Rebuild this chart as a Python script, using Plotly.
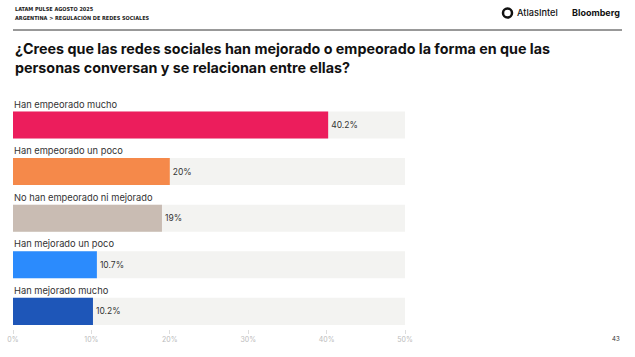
import plotly.graph_objects as go

categories = [
    "Han empeorado mucho",
    "Han empeorado un poco",
    "No han empeorado ni mejorado",
    "Han mejorado un poco",
    "Han mejorado mucho",
]
values = [40.2, 20, 19, 10.7, 10.2]
colors = ["#EC1D5C", "#F5894A", "#C9BCB3", "#2B8BFD", "#1E56B8"]
track_max = 50
tick_vals = [0, 10, 20, 30, 40, 50]
tick_text = ["0%", "10%", "20%", "30%", "40%", "50%"]

W, H = 635, 357
FONT = "Inter"

def py(p):
    return 1 - p / H

fig = go.Figure()
fig.add_trace(go.Bar(
    y=categories, x=[track_max] * len(categories), orientation="h",
    marker=dict(color="#F3F3F1", line=dict(width=0)), width=0.58,
    hoverinfo="skip", showlegend=False,
))
fig.add_trace(go.Bar(
    y=categories, x=values, orientation="h",
    marker=dict(color=colors, line=dict(width=0)), width=0.58,
    text=[f"{v:g}%" for v in values], textposition="outside",
    textfont=dict(family=FONT, size=8.5, color="#333333"),
    cliponaxis=False, showlegend=False,
))

annotations = []
for c in categories:
    annotations.append(dict(
        x=0, y=c, xref="x", yref="y", text=c, showarrow=False,
        xanchor="left", yanchor="middle", yshift=21, xshift=-1,
        font=dict(family=FONT, size=9.3, color="#333333"),
    ))

# header
annotations += [
    dict(x=13 / W, y=py(9), xref="paper", yref="paper", text="LATAM PULSE AGOSTO 2025",
         showarrow=False, xanchor="left", yanchor="middle",
         font=dict(family="DejaVu Sans Condensed", size=5.5, color="#222222", weight=600)),
    dict(x=13 / W, y=py(17), xref="paper", yref="paper", text="ARGENTINA > REGULACIÓN DE REDES SOCIALES",
         showarrow=False, xanchor="left", yanchor="middle",
         font=dict(family="DejaVu Sans Condensed", size=5.5, color="#222222", weight=600)),
    dict(x=515 / W, y=py(13), xref="paper", yref="paper", text="AtlasIntel",
         showarrow=False, xanchor="left", yanchor="middle",
         font=dict(family=FONT, size=9.2, color="#111111", weight=500)),
    dict(x=622 / W, y=py(13), xref="paper", yref="paper", text="Bloomberg",
         showarrow=False, xanchor="right", yanchor="middle",
         font=dict(family=FONT, size=9, color="#111111", weight=700)),
    dict(x=13 / W, y=py(58.5), xref="paper", yref="paper",
         text="¿Crees que las redes sociales han mejorado o empeorado la forma en que las<br>personas conversan y se relacionan entre ellas?",
         showarrow=False, xanchor="left", yanchor="middle", align="left",
         font=dict(family=FONT, size=14.3, color="#111111", weight=700)),
    dict(x=622 / W, y=py(338), xref="paper", yref="paper", text="43",
         showarrow=False, xanchor="right", yanchor="middle",
         font=dict(family=FONT, size=6, color="#333333")),
]

shapes = [
    dict(type="line", xref="paper", yref="paper", x0=13 / W, x1=622 / W,
         y0=py(30), y1=py(30), line=dict(color="#333333", width=1)),
    dict(type="circle", xref="paper", yref="paper", x0=503 / W, x1=512 / W,
         y0=py(17.5), y1=py(8.5), line=dict(color="#111111", width=2.5),
         fillcolor="white"),
]

fig.update_layout(
    width=W, height=H, barmode="overlay",
    paper_bgcolor="white", plot_bgcolor="white",
    margin=dict(l=0, r=0, t=0, b=0, autoexpand=False),
    annotations=annotations, shapes=shapes,
    xaxis=dict(domain=[13 / W, 405 / W], range=[0, track_max], tickvals=tick_vals,
               ticktext=tick_text, showgrid=False, zeroline=False, showline=False,
               ticks="outside", ticklen=4, tickcolor="#DDDDDD", tickwidth=1,
               tickfont=dict(family=FONT, size=7, color="#BBBBBB"), fixedrange=True,
               automargin=False),
    yaxis=dict(type="category", categoryorder="array", categoryarray=categories,
               domain=[py(329), py(95)],
               range=[4.378, -0.644], showticklabels=False, showgrid=False,
               zeroline=False, showline=False, fixedrange=True, automargin=False),
    font=dict(family=FONT),
)

fig.write_html("out.html", config=dict(displayModeBar=False),
               post_script="document.body.style.margin='0px';document.body.style.overflow='hidden';")
